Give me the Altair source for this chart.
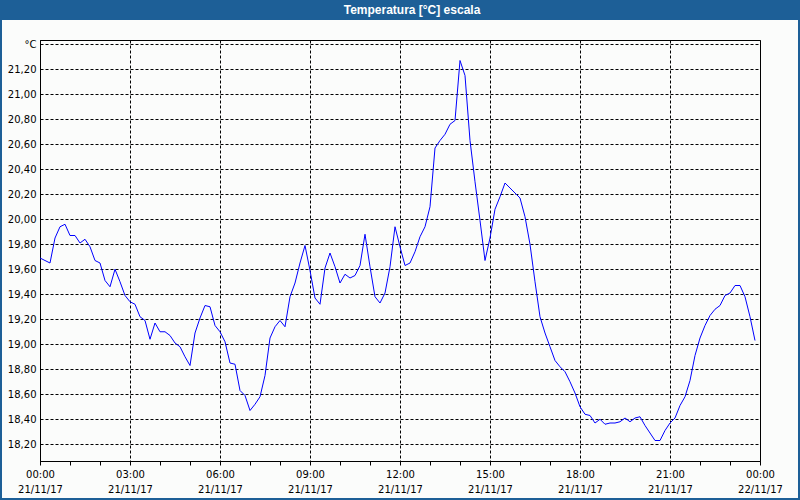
import json
import altair as alt
import pandas as pd

# Temperature readings every 10 minutes from 21/11/17 00:00
temps = [
    19.69, 19.67, 19.65, 19.85, 19.94, 19.96, 19.87, 19.87, 19.81, 19.84,
    19.78, 19.67, 19.65, 19.51, 19.46, 19.60, 19.50, 19.39, 19.34, 19.32,
    19.22, 19.19, 19.04, 19.17, 19.10, 19.10, 19.07, 19.01, 18.98, 18.90,
    18.83, 19.09, 19.21, 19.31, 19.30, 19.15, 19.10, 19.02, 18.85, 18.84,
    18.63, 18.59, 18.47, 18.52, 18.58, 18.75, 19.05, 19.14, 19.19, 19.14,
    19.38, 19.49, 19.65, 19.79, 19.59, 19.37, 19.32, 19.61, 19.73, 19.62,
    19.49, 19.56, 19.53, 19.55, 19.63, 19.88, 19.62, 19.38, 19.33, 19.41,
    19.62, 19.94, 19.78, 19.63, 19.65, 19.74, 19.86, 19.94, 20.10, 20.57,
    20.63, 20.68, 20.76, 20.79, 21.27, 21.15, 20.63, 20.30, 19.99, 19.67,
    19.85, 20.08, 20.18, 20.29, 20.25, 20.21, 20.17, 20.02, 19.80, 19.50,
    19.22, 19.09, 18.98, 18.87, 18.82, 18.78, 18.70, 18.61, 18.50, 18.44,
    18.43, 18.37, 18.40, 18.36, 18.37, 18.37, 18.38, 18.41, 18.38, 18.41,
    18.42, 18.35, 18.29, 18.23, 18.23, 18.31, 18.37, 18.41, 18.51, 18.58,
    18.71, 18.91, 19.05, 19.15, 19.23, 19.28, 19.31, 19.39, 19.41, 19.47,
    19.47, 19.38, 19.22, 19.03,
]
step_minutes = 10
hours = [i * step_minutes / 60 for i in range(len(temps))]

tick_hours = list(range(0, 25))
label_times = ["00:00", "03:00", "06:00", "09:00", "12:00", "15:00", "18:00", "21:00", "00:00"]
label_dates = ["21/11/17"] * 8 + ["22/11/17"]
y_ticks = [18.2, 18.4, 18.6, 18.8, 19.0, 19.2, 19.4, 19.6, 19.8, 20.0,
           20.2, 20.4, 20.6, 20.8, 21.0, 21.2, 21.4]
y_unit = "°C"
title_text = "Temperatura [°C] escala"

df = pd.DataFrame({"h": hours, "t": temps})

FONT = "DejaVu Sans"
BLUE_BAR = "#1d5f97"

x_label_expr = (
    "datum.value % 3 == 0 ? ["
    + json.dumps(label_times) + "[datum.value / 3], "
    + json.dumps(label_dates) + "[datum.value / 3]] : ''"
)
y_label_expr = (
    f"datum.value > 21.3 ? '{y_unit}' : replace(format(datum.value, '.2f'), '.', ',')"
)

line = alt.Chart(df).mark_line(color="#0000ff", strokeWidth=1, clip=True).encode(
    x=alt.X(
        "h:Q",
        scale=alt.Scale(domain=[0, 24], nice=False, zero=False),
        axis=alt.Axis(
            values=tick_hours,
            title=None,
            labelExpr=x_label_expr,
            labelFont=FONT,
            labelFontSize=10,
            labelColor="#000000",
            labelLineHeight=15,
            labelPadding=4,
            labelFlush=False,
            labelOverlap=False,
            tickSize=4,
            tickColor="#000000",
            domainColor="#000000",
            grid=True,
            gridColor="#000000",
            gridDash=[3, 2],
            gridOpacity={"condition": {"test": "datum.value % 3 == 0", "value": 1}, "value": 0},
        ),
    ),
    y=alt.Y(
        "t:Q",
        scale=alt.Scale(domain=[18.066, 21.434], nice=False, zero=False),
        axis=alt.Axis(
            values=y_ticks,
            title=None,
            labelExpr=y_label_expr,
            labelFont=FONT,
            labelFontSize=10,
            labelColor="#000000",
            labelPadding=4,
            ticks=False,
            domainColor="#000000",
            grid=True,
            gridColor="#000000",
            gridDash=[3, 2],
            labelOverlap=False,
        ),
    ),
)

one = alt.Data(values=[{"a": 1}])

title_bar = alt.Chart(one).mark_rect(color=BLUE_BAR).encode(
    x=alt.value(-40), x2=alt.value(760), y=alt.value(-40), y2=alt.value(-20)
)
title = alt.Chart(one).mark_text(
    text=title_text, color="white", font="Liberation Sans", fontWeight="bold",
    fontSize=12, align="center", baseline="middle"
).encode(x=alt.value(372), y=alt.value(-30))

frame = alt.Chart(one).mark_rect(fill=None, stroke=BLUE_BAR, strokeWidth=2).encode(
    x=alt.value(-39), x2=alt.value(759), y=alt.value(-40), y2=alt.value(459)
)

chart = alt.layer(title_bar, line, title, frame).properties(
    width=720,
    height=421,
    autosize=alt.AutoSizeParams(type="none"),
    padding={"left": 40, "top": 40, "right": 40, "bottom": 39},
    background="#fbfcfb",
).configure_view(stroke="#000000", strokeWidth=1)

chart.save("out.html", embed_options={"renderer": "svg", "actions": False})
